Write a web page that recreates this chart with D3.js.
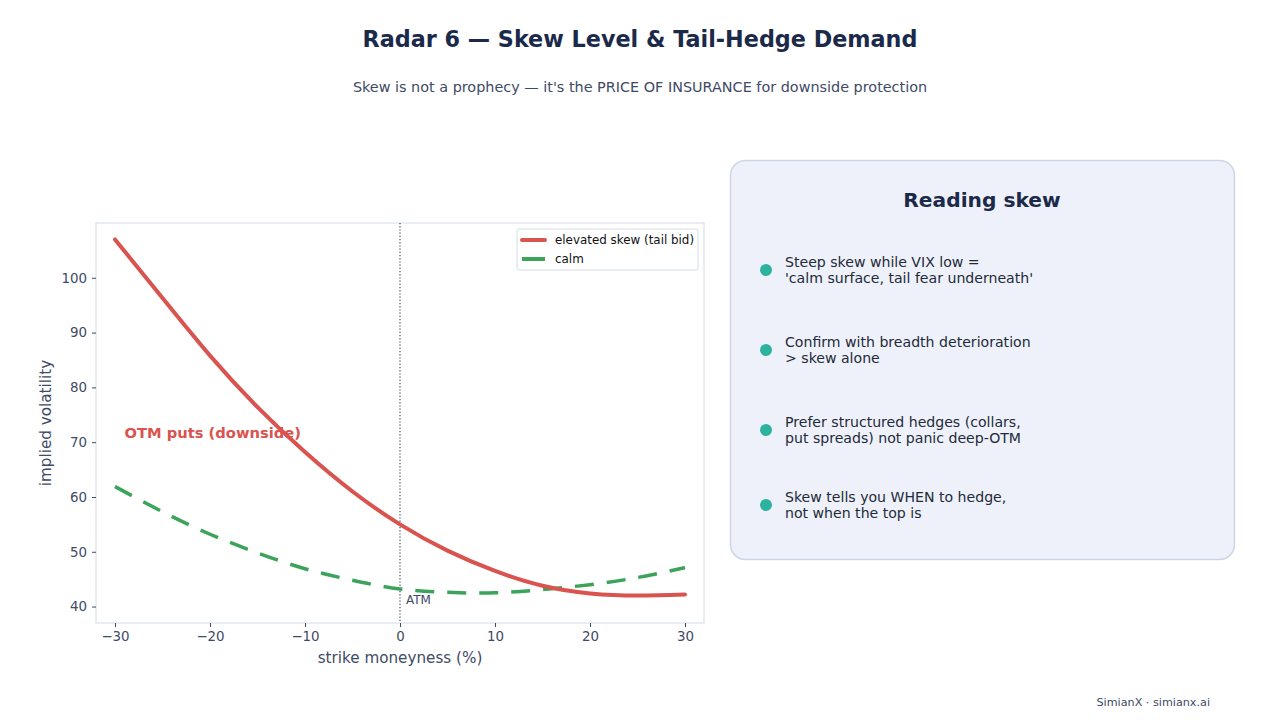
<!DOCTYPE html>
<html><head><meta charset="utf-8">
<script src="https://cdn.jsdelivr.net/npm/d3@7"></script>
<style>
body{margin:0;background:#fff;font-family:"DejaVu Sans",sans-serif;}
svg text{font-family:"DejaVu Sans",sans-serif;}
</style></head><body>
<svg id="c" width="1280" height="720"></svg>
<script>
const moneyness = [-30,-25,-20,-15,-10,-5,0,5,10,15,20,25,30];
const elevatedSkew = [107.0,96.3,85.8,76.4,68.2,61.0,55.0,50.2,46.5,43.8,42.4,42.0,42.2];
const calmSkew = [61.9,57.3,53.2,49.8,46.9,44.8,43.2,42.6,42.5,43.1,44.0,45.3,47.1];
const xTicks = [-30,-20,-10,0,10,20,30];
const yTicks = [40,50,60,70,80,90,100];
const seriesNames = ["elevated skew (tail bid)","calm"];
const bullets = [
  ["Steep skew while VIX low =","'calm surface, tail fear underneath'"],
  ["Confirm with breadth deterioration","> skew alone"],
  ["Prefer structured hedges (collars,","put spreads) not panic deep-OTM"],
  ["Skew tells you WHEN to hedge,","not when the top is"]
];

const svg = d3.select("#c");
const dark = "#1b2a4a", mid = "#3e4a66", red = "#d9534f", green = "#3ba35a";

svg.append("text").attr("x",640).attr("y",47).attr("text-anchor","middle")
  .attr("font-size",22.3).attr("font-weight","bold").attr("fill",dark)
  .text("Radar 6 — Skew Level & Tail-Hedge Demand");
svg.append("text").attr("x",640).attr("y",92).attr("text-anchor","middle")
  .attr("font-size",14.4).attr("fill",mid)
  .text("Skew is not a prophecy — it's the PRICE OF INSURANCE for downside protection");

const L=96,R=704,T=223,B=623;
const x = d3.scaleLinear().domain([-32,32]).range([L,R]);
const y = d3.scaleLinear().domain([37,110]).range([B,T]);

const g = svg.append("g");
g.append("rect").attr("x",L).attr("y",T).attr("width",R-L).attr("height",B-T)
  .attr("fill","#fff").attr("stroke","#d3dbe8").attr("stroke-width",1);

const xa = g.append("g").attr("transform",`translate(0,${B})`)
  .call(d3.axisBottom(x).tickValues(xTicks).tickSize(4).tickPadding(4));
const ya = g.append("g").attr("transform",`translate(${L},0)`)
  .call(d3.axisLeft(y).tickValues(yTicks).tickSize(4).tickPadding(5));
[xa,ya].forEach(a=>{
  a.select(".domain").remove();
  a.selectAll("line").attr("stroke",mid);
  a.selectAll("text").attr("fill",mid).attr("font-size",13.4);
});

g.append("text").attr("x",(L+R)/2).attr("y",663).attr("text-anchor","middle")
  .attr("font-size",15.2).attr("fill",mid).text("strike moneyness (%)");
g.append("text").attr("transform",`translate(51,${(T+B)/2}) rotate(-90)`).attr("text-anchor","middle")
  .attr("font-size",15.2).attr("fill",mid).text("implied volatility");

// ATM line
g.append("line").attr("x1",x(0)).attr("x2",x(0)).attr("y1",T).attr("y2",B)
  .attr("stroke",mid).attr("stroke-width",1.2).attr("stroke-dasharray","1.2,2");
g.append("text").attr("x",x(0)+6).attr("y",604).attr("font-size",12).attr("fill",mid).text("ATM");

const line = d3.line().x((d,i)=>x(moneyness[i])).y(d=>y(d)).curve(d3.curveNatural);
g.append("path").datum(calmSkew).attr("d",line).attr("fill","none")
  .attr("stroke",green).attr("stroke-width",3.5).attr("stroke-dasharray","19,13");
g.append("path").datum(elevatedSkew).attr("d",line).attr("fill","none")
  .attr("stroke",red).attr("stroke-width",4).attr("stroke-linecap","round");

g.append("text").attr("x",x(-29)).attr("y",y(71.7)+5).attr("font-size",14.7).attr("font-weight","bold")
  .attr("fill",red).text("OTM puts (downside)");

// legend
const lg = g.append("g");
lg.append("rect").attr("x",517).attr("y",229).attr("width",181).attr("height",41).attr("rx",2)
  .attr("fill","#fff").attr("stroke","#d3dbe8");
[[red,null],[green,"8,4"]].forEach((s,i)=>{
  const yy = 240+i*19;
  lg.append("line").attr("x1",522).attr("x2",545).attr("y1",yy).attr("y2",yy)
    .attr("stroke",s[0]).attr("stroke-width",4).attr("stroke-linecap",i===0?"round":"butt");
  lg.append("text").attr("x",555).attr("y",yy+4).attr("font-size",11.9).attr("fill","#111")
    .text(seriesNames[i]);
});

// panel
const p = svg.append("g");
p.append("rect").attr("x",730.5).attr("y",160.5).attr("width",504).attr("height",399).attr("rx",15)
  .attr("fill","#eef1f9").attr("stroke","#cdd6e7").attr("stroke-width",1.5);
p.append("text").attr("x",982).attr("y",207).attr("text-anchor","middle").attr("font-size",20.2)
  .attr("font-weight","bold").attr("fill",dark).text("Reading skew");
const by = [270,350,430,505];
bullets.forEach((b,i)=>{
  p.append("circle").attr("cx",766).attr("cy",by[i]).attr("r",6).attr("fill","#2bb3a0");
  b.forEach((t,j)=>{
    p.append("text").attr("x",785).attr("y",by[i]-3+j*16).attr("font-size",14.1).attr("fill","#222a3a").text(t);
  });
});

svg.append("text").attr("x",1210).attr("y",706).attr("text-anchor","end").attr("font-size",11.2)
  .attr("fill",mid).text("SimianX · simianx.ai");
</script></body></html>
